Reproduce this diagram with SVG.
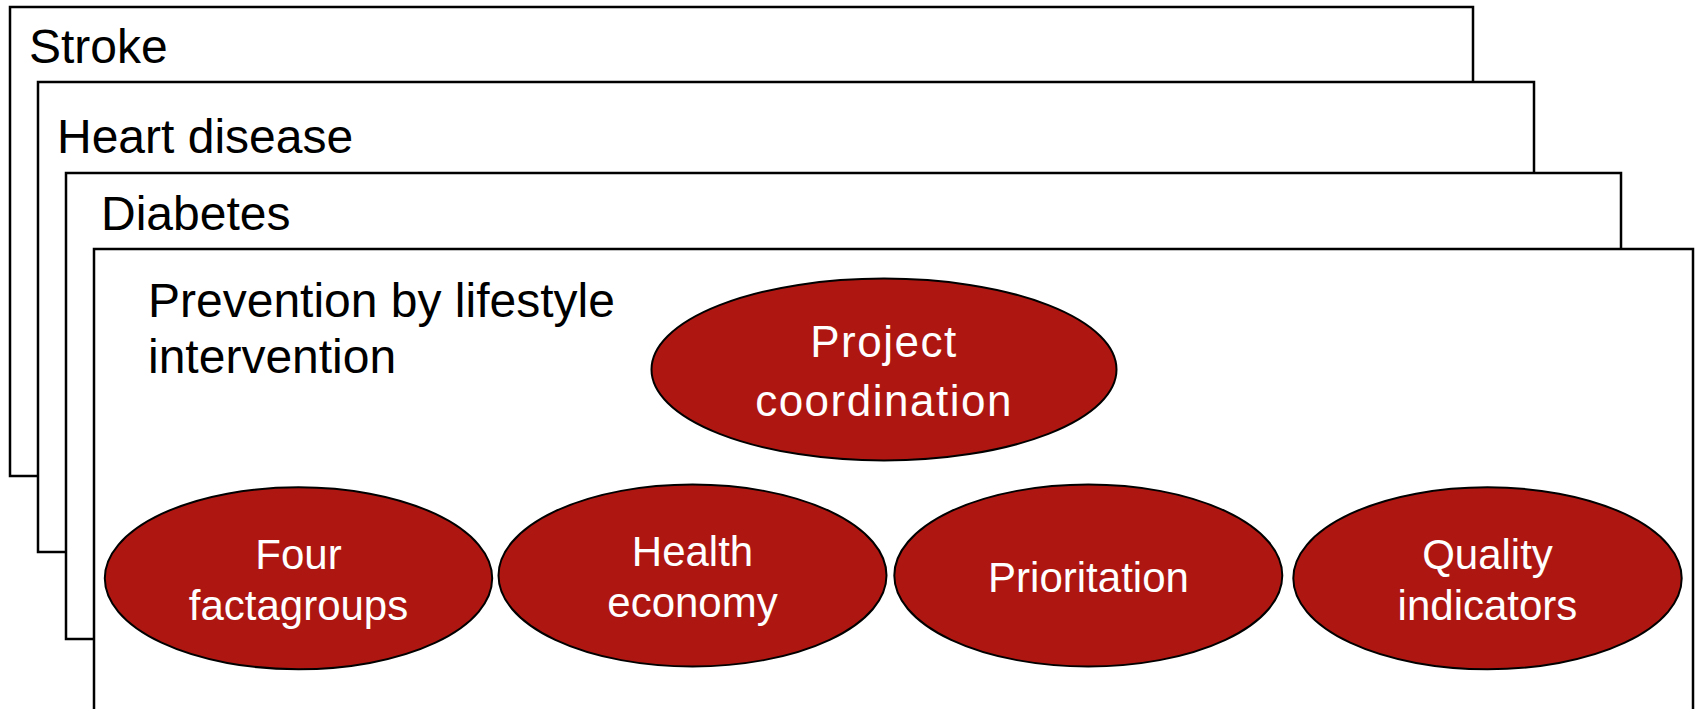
<svg xmlns="http://www.w3.org/2000/svg" width="1696" height="709" viewBox="0 0 1696 709">
<style>
.box{fill:#fff;stroke:#000;stroke-width:2.5}
.lbl{font-family:"Liberation Sans",Arial,sans-serif;font-size:48px;fill:#000}
.ell{fill:#AE1711;stroke:#000;stroke-width:2}
.et{font-family:"Liberation Sans",Arial,sans-serif;font-size:42px;fill:#fff;text-anchor:middle}
</style>
<rect width="1696" height="709" fill="#fff"/>
<g id="stroke"><rect class="box" x="10" y="7" width="1463" height="469"/><text class="lbl" x="29" y="63">Stroke</text></g>
<g id="heart"><rect class="box" x="38" y="82" width="1496" height="470"/><text class="lbl" x="57" y="153">Heart disease</text></g>
<g id="diabetes"><rect class="box" x="66" y="173" width="1555" height="466"/><text class="lbl" x="101" y="230">Diabetes</text></g>
<g id="prevention"><rect class="box" x="94" y="249" width="1599" height="470"/><text class="lbl" x="148" y="317">Prevention by lifestyle</text><text class="lbl" x="148" y="373">intervention</text></g>
<g id="connectors"></g>
<g id="project"><ellipse class="ell" cx="884" cy="369.5" rx="232.5" ry="91"/><text class="et" x="884" y="357" style="font-size:44px;letter-spacing:1.5px">Project</text><text class="et" x="884" y="416" style="font-size:44px;letter-spacing:1.5px">coordination</text></g>
<g id="four"><ellipse class="ell" cx="298.5" cy="578.3" rx="193.7" ry="91"/><text class="et" x="298.5" y="569">Four</text><text class="et" x="298.5" y="620">factagroups</text></g>
<g id="health"><ellipse class="ell" cx="692.5" cy="575.5" rx="194" ry="91"/><text class="et" x="692.5" y="566">Health</text><text class="et" x="692.5" y="617">economy</text></g>
<g id="prio"><ellipse class="ell" cx="1088.3" cy="575.5" rx="194" ry="91"/><text class="et" x="1088.5" y="592">Prioritation</text></g>
<g id="quality"><ellipse class="ell" cx="1487.5" cy="578.3" rx="194.2" ry="91"/><text class="et" x="1487.5" y="569">Quality</text><text class="et" x="1487.5" y="620">indicators</text></g>
</svg>
